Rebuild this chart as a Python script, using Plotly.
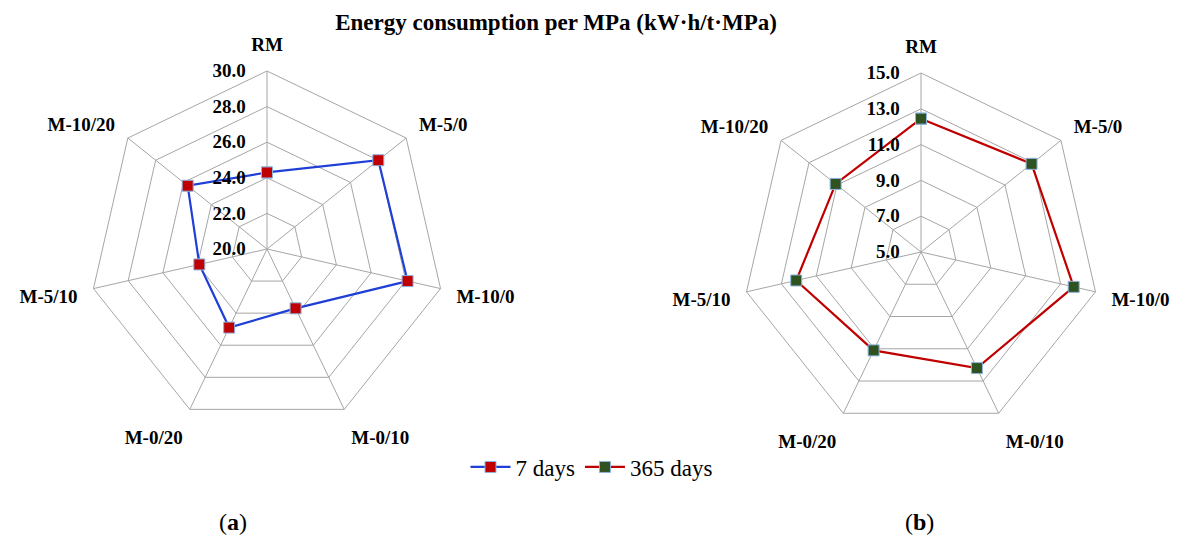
import plotly.graph_objects as go

categories = ["RM", "M-5/0", "M-10/0", "M-0/10", "M-0/20", "M-5/10", "M-10/20"]
days7 = [24.3, 28.0, 28.1, 23.7, 24.9, 23.9, 25.7]
days365 = [12.45, 12.9, 13.75, 12.2, 11.1, 12.15, 11.1]
range7 = [20, 30]
range365 = [5, 15]
title = "Energy consumption per MPa (kW·h/t·MPa)"

W, H = 1183, 540
FONT = "Liberation Serif"
GRID = "#A6A6A6"

def closed(v):
    return v + v[:1]

fig = go.Figure()
fig.add_trace(go.Scatterpolar(
    r=closed(days7), theta=closed(categories), name="7 days", subplot="polar",
    mode="lines+markers",
    line=dict(color="#1F3FD6", width=2.2),
    marker=dict(symbol="square", size=11, color="#C00000", line=dict(color="#8DB4E2", width=1)),
))
fig.add_trace(go.Scatterpolar(
    r=closed(days365), theta=closed(categories), name="365 days", subplot="polar2",
    mode="lines+markers",
    line=dict(color="#C00000", width=2.2),
    marker=dict(symbol="square", size=11, color="#2F5220", line=dict(color="#8DB4E2", width=1)),
))

def px_dom(cx, cy, r):
    return dict(x=[(cx - r) / W, (cx + r) / W], y=[(H - cy - r) / H, (H - cy + r) / H])

def polar_layout(rng, dom):
    return dict(
        domain=dom,
        gridshape="linear",
        bgcolor="white",
        radialaxis=dict(
            range=rng, tick0=rng[0], dtick=2, tickformat=".1f", angle=90, tickangle=90,
            side="counterclockwise", showline=False,
            ticks="outside", ticklen=14, tickcolor="rgba(0,0,0,0)",
            gridcolor=GRID, gridwidth=1,
            tickfont=dict(family=FONT, size=19, color="black", weight="bold"),
        ),
        angularaxis=dict(
            rotation=90, direction="clockwise", categoryarray=categories,
            showline=True, linecolor=GRID, linewidth=1,
            gridcolor=GRID, gridwidth=1,
            ticks="outside", ticklen=12, tickcolor="rgba(0,0,0,0)",
            tickfont=dict(family=FONT, size=19, color="black", weight="bold"),
        ),
    )

fig.update_layout(
    width=W, height=H,
    margin=dict(l=0, r=0, t=0, b=0),
    paper_bgcolor="white",
    font=dict(family=FONT, color="black"),
    polar=polar_layout(range7, px_dom(267, 249, 178)),
    polar2=polar_layout(range365, px_dom(921, 252, 179)),
    showlegend=True,
    legend=dict(orientation="h", x=0.5, xanchor="center", y=73 / H, yanchor="middle",
                font=dict(family=FONT, size=23, color="black", weight="normal"), itemwidth=40),
    title=dict(text="<b>" + title + "</b>", x=556 / W, xanchor="center", y=1 - 22 / H, yanchor="middle",
               font=dict(family=FONT, size=23, color="black")),
    annotations=[
        dict(text="(<b>a</b>)", x=233 / W, y=(H - 522) / H, xref="paper", yref="paper",
             xanchor="center", yanchor="middle",
             showarrow=False, font=dict(family=FONT, size=24, color="black")),
        dict(text="(<b>b</b>)", x=919 / W, y=(H - 522) / H, xref="paper", yref="paper",
             xanchor="center", yanchor="middle",
             showarrow=False, font=dict(family=FONT, size=24, color="black")),
    ],
)

fig.write_html("out.html")
